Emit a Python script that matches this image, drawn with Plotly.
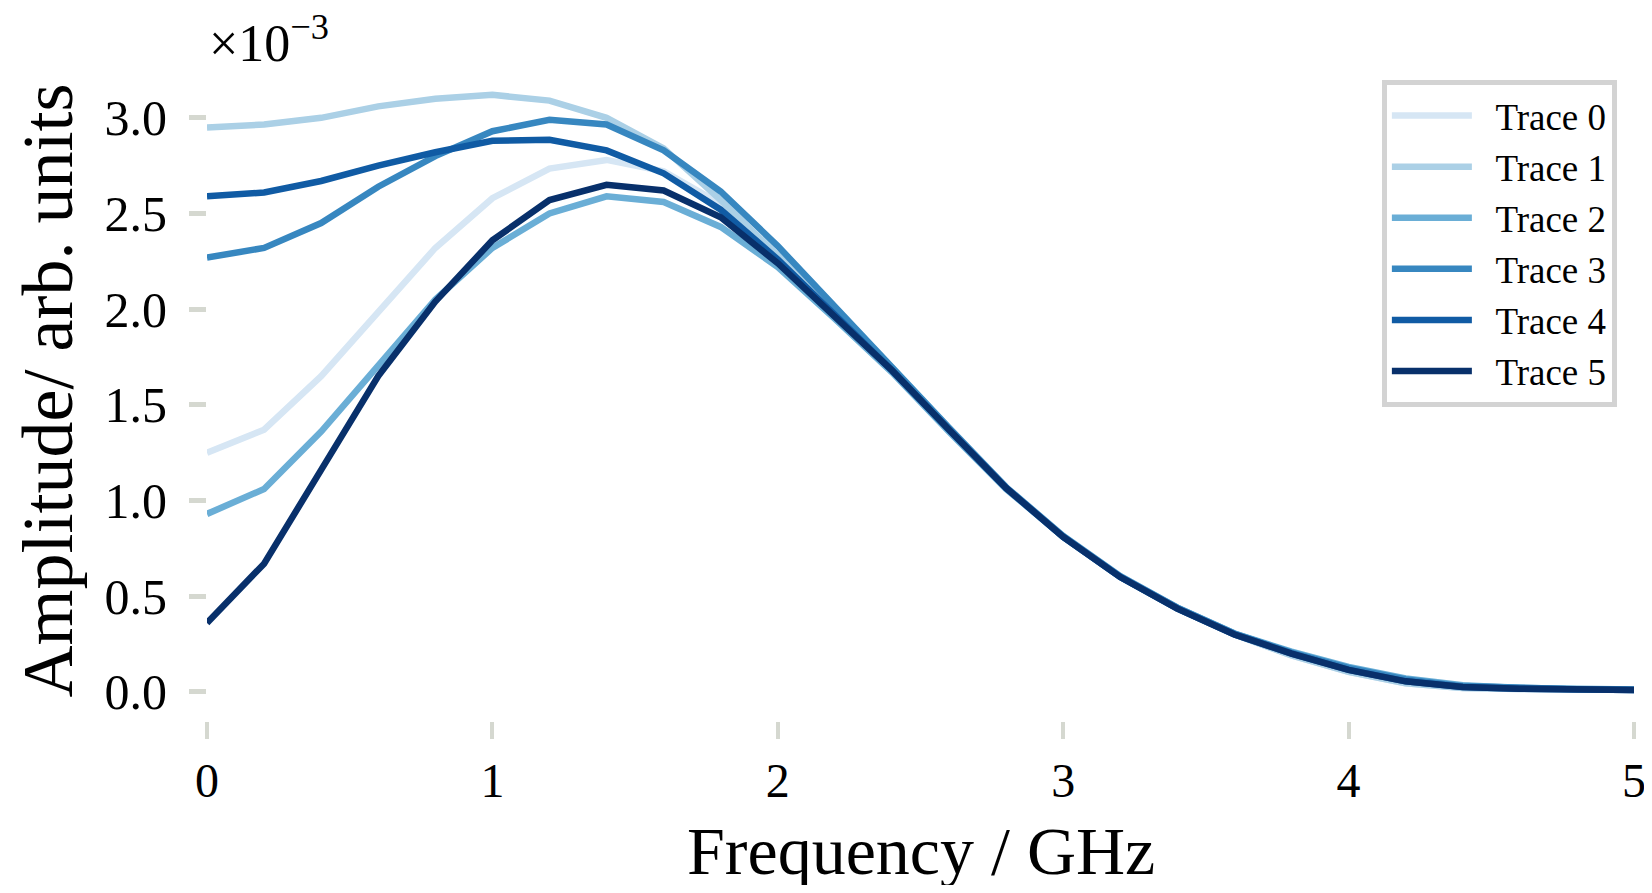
import plotly.graph_objects as go

# Frequency axis (GHz)
freq = [0.0, 0.2, 0.4, 0.6, 0.8, 1.0, 1.2, 1.4, 1.6, 1.8, 2.0, 2.2, 2.4,
        2.6, 2.8, 3.0, 3.2, 3.4, 3.6, 3.8, 4.0, 4.2, 4.4, 4.6, 4.8, 5.0]

# Amplitudes in units of 1e-3 (arb. units)
trace0 = [1.25, 1.37, 1.65, 1.99, 2.32, 2.58, 2.735, 2.78, 2.72, 2.55, 2.28, 1.97, 1.68,
          1.37, 1.065, 0.81, 0.60, 0.435, 0.30, 0.19, 0.105, 0.045, 0.02, 0.015, 0.012, 0.01]
trace1 = [2.95, 2.965, 3.00, 3.06, 3.10, 3.12, 3.09, 3.00, 2.84, 2.57, 2.28, 1.97, 1.68,
          1.37, 1.065, 0.81, 0.60, 0.435, 0.30, 0.19, 0.105, 0.045, 0.02, 0.015, 0.012, 0.01]
trace2 = [0.93, 1.06, 1.36, 1.71, 2.05, 2.32, 2.50, 2.59, 2.56, 2.43, 2.22, 1.95, 1.67,
          1.36, 1.06, 0.81, 0.60, 0.44, 0.305, 0.21, 0.13, 0.07, 0.035, 0.02, 0.015, 0.012]
trace3 = [2.27, 2.32, 2.45, 2.64, 2.80, 2.93, 2.99, 2.965, 2.83, 2.615, 2.33, 2.01, 1.70,
          1.38, 1.07, 0.815, 0.605, 0.44, 0.305, 0.205, 0.125, 0.065, 0.03, 0.018, 0.014, 0.011]
trace4 = [2.59, 2.61, 2.67, 2.75, 2.82, 2.88, 2.885, 2.83, 2.71, 2.52, 2.26, 1.97, 1.68,
          1.37, 1.065, 0.81, 0.60, 0.435, 0.30, 0.20, 0.115, 0.055, 0.025, 0.016, 0.013, 0.01]
trace5 = [0.36, 0.67, 1.16, 1.65, 2.04, 2.36, 2.57, 2.65, 2.62, 2.48, 2.24, 1.96, 1.68,
          1.37, 1.065, 0.81, 0.60, 0.435, 0.30, 0.20, 0.115, 0.055, 0.025, 0.016, 0.013, 0.01]

series = [trace0, trace1, trace2, trace3, trace4, trace5]
names = ["Trace 0", "Trace 1", "Trace 2", "Trace 3", "Trace 4", "Trace 5"]
colors = ["#d6e6f4", "#abd0e6", "#6aaed6", "#3787c0", "#105ba4", "#08306b"]

y_ticks = [0.0, 0.5, 1.0, 1.5, 2.0, 2.5, 3.0]
x_ticks = [0, 1, 2, 3, 4, 5]

x_title = "Frequency / GHz"
y_title = "Amplitude/ arb. units"

FONT = "Liberation Serif"
TICKCOL = "#d5d8d0"

fig = go.Figure()
for name, vals, col in zip(names, series, colors):
    fig.add_trace(go.Scatter(x=freq, y=vals, mode="lines",
                             name="\u2002" + name,
                             line=dict(color=col, width=6.5)))

fig.update_layout(
    width=1636, height=877,
    margin=dict(l=199, r=10, t=62, b=150),
    paper_bgcolor="white", plot_bgcolor="white",
    font=dict(family=FONT, color="black", size=48),
    showlegend=True,
    legend=dict(x=0.988, y=0.985, xanchor="right", yanchor="top",
                bgcolor="white", bordercolor="#d3d3d3", borderwidth=5,
                font=dict(family=FONT, size=37), itemwidth=80,
                tracegroupgap=0),
    xaxis=dict(range=[0, 5], tickvals=x_ticks, tickformat="d",
               showgrid=False, zeroline=False, showline=False,
               ticks="outside", ticklen=17, tickwidth=4, tickcolor=TICKCOL,
               anchor="free", position=0.02105, ticklabelstandoff=0,
               ticklabeloverflow="allow",
               tickfont=dict(family=FONT, size=48),
               automargin=False),
    yaxis=dict(range=[-0.1, 3.25], tickvals=y_ticks, tickformat=".1f",
               domain=[0.0361, 1],
               showgrid=False, zeroline=False, showline=False,
               ticks="outside", ticklen=17, tickwidth=5, tickcolor=TICKCOL,
               ticklabelstandoff=12,
               tickfont=dict(family=FONT, size=50),
               title=dict(text=y_title, standoff=22,
                          font=dict(family=FONT, size=72)),
               automargin=False),
    annotations=[
        dict(text="×10<sup>−3</sup>", xref="paper", yref="paper",
             x=0.0, y=1.046, xanchor="left", yanchor="middle",
             showarrow=False, font=dict(family=FONT, size=52)),
        dict(text=x_title, xref="paper", yref="paper",
             x=0.5, y=-0.175, xanchor="center", yanchor="middle",
             showarrow=False, font=dict(family=FONT, size=68)),
    ],
)

fig.write_html("out.html")
